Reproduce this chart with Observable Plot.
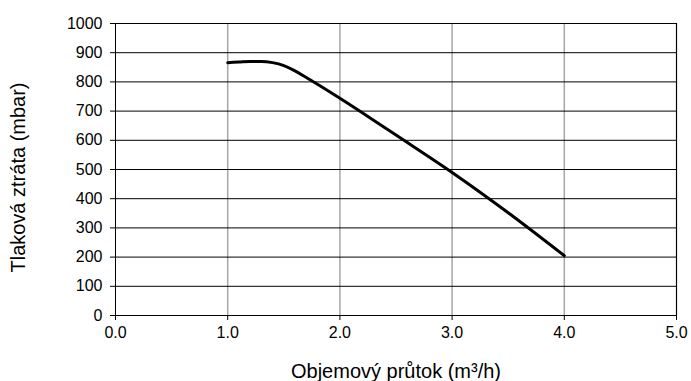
<!DOCTYPE html>
<html>
<head>
<meta charset="utf-8">
<script src="https://cdn.jsdelivr.net/npm/d3@7"></script>
<script src="https://cdn.jsdelivr.net/npm/@observablehq/plot@0.6"></script>
<style>
  html, body { margin: 0; padding: 0; background: #fff; }
  #chart svg { display: block; }
</style>
</head>
<body>
<div id="chart"></div>
<script>
const flow = [1.0, 1.1, 1.2, 1.3, 1.4, 1.5, 1.6, 1.7, 1.8, 2.0, 2.3, 2.5, 3.0, 3.5, 4.0];
const pressure = [866, 868, 870, 870, 866, 856, 838, 815, 792, 744, 669, 618, 490, 352, 205];
const xTicks = [0, 1, 2, 3, 4, 5];
const yTicks = [0, 100, 200, 300, 400, 500, 600, 700, 800, 900, 1000];
const xLabel = "Objemový průtok (m³/h)";
const yLabel = "Tlaková ztráta (mbar)";

const data = flow.map((f, i) => ({f, p: pressure[i]}));

const chart = Plot.plot({
  width: 691,
  height: 381,
  marginLeft: 115,
  marginRight: 15,
  marginTop: 23,
  marginBottom: 66,
  style: {fontFamily: "'Liberation Sans', Arial, sans-serif", background: "#fff", color: "#000"},
  x: {domain: [0, 5]},
  y: {domain: [0, 1000]},
  marks: [
    Plot.gridX(xTicks.slice(1), {stroke: "#a6a6a6", strokeOpacity: 1, strokeWidth: 1.5}),
    Plot.gridY(yTicks.slice(1), {stroke: "#000", strokeOpacity: 1, strokeWidth: 1}),
    Plot.ruleX([5], {stroke: "#000", strokeWidth: 1}),
    Plot.axisX(xTicks, {tickFormat: d => d.toFixed(1), tickSize: 5, tickPadding: 6, fontSize: 16, label: null}),
    Plot.axisY(yTicks, {tickFormat: d => String(d), tickSize: 5, tickPadding: 8, fontSize: 16, label: null}),
    Plot.ruleX([0], {stroke: "#000", strokeWidth: 1}),
    Plot.ruleY([0], {stroke: "#000", strokeWidth: 1}),
    Plot.line(data, {x: "f", y: "p", stroke: "#000", strokeWidth: 3, curve: "monotone-x"}),
    Plot.text([xLabel], {frameAnchor: "bottom", dy: 56, fontSize: 20, lineAnchor: "middle", textAnchor: "middle"}),
    Plot.text([yLabel], {frameAnchor: "left", dx: -97, dy: 8, rotate: -90, fontSize: 20, lineAnchor: "middle", textAnchor: "middle"})
  ]
});
document.getElementById("chart").appendChild(chart);
</script>
</body>
</html>
